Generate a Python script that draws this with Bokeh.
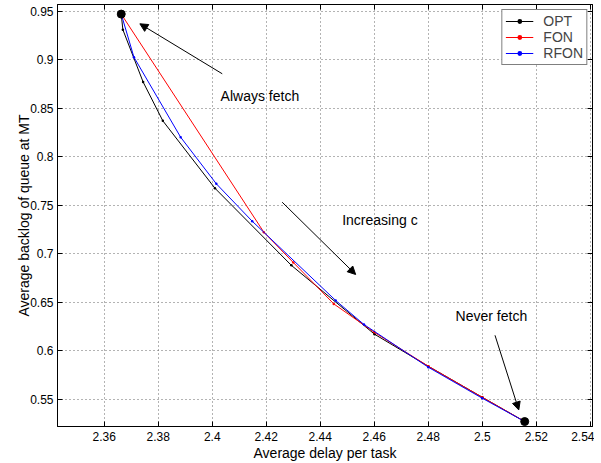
from bokeh.plotting import figure
from bokeh.models import (Range1d, LinearAxis, Arrow, NormalHead, Label, FixedTicker)
from bokeh.embed import file_html
from bokeh.resources import INLINE

# ---- data ----
opt_x = [2.3663, 2.3669, 2.3744, 2.3817, 2.4010, 2.4293, 2.4601, 2.4800, 2.5000, 2.5157]
opt_y = [0.947, 0.931, 0.877, 0.837, 0.7675, 0.688, 0.617, 0.584, 0.552, 0.527]

fon_x = [2.3663, 2.4191, 2.4300, 2.4450, 2.4600, 2.4800, 2.5000, 2.5157]
fon_y = [0.947, 0.7222, 0.691, 0.6483, 0.619, 0.584, 0.552, 0.527]

rfon_x = [2.3663, 2.3710, 2.3883, 2.4015, 2.4148, 2.4457, 2.4562, 2.4800, 2.5000, 2.5157]
rfon_y = [0.947, 0.9026, 0.8201, 0.7721, 0.7335, 0.6518, 0.627, 0.583, 0.551, 0.527]

x_ticks = [2.36, 2.38, 2.40, 2.42, 2.44, 2.46, 2.48, 2.50, 2.52, 2.54]
x_tick_labels = ["2.36", "2.38", "2.4", "2.42", "2.44", "2.46", "2.48", "2.5", "2.52", "2.54"]
y_ticks = [0.55, 0.60, 0.65, 0.70, 0.75, 0.80, 0.85, 0.90, 0.95]
y_tick_labels = ["0.55", "0.6", "0.65", "0.7", "0.75", "0.8", "0.85", "0.9", "0.95"]

# annotations: text, (text x, y), arrow start (x, y), arrow end (x, y)
notes = ["Always fetch", "Increasing c", "Never fetch"]
note_x = [2.4031, 2.4481, 2.4901]
note_y = [0.863, 0.735, 0.6363]
arrow_x0 = [2.4037, 2.4259, 2.5047]
arrow_y0 = [0.8855, 0.7531, 0.6159]
arrow_x1 = [2.3732, 2.4531, 2.5135]
arrow_y1 = [0.937, 0.6786, 0.539]

FONT = "Liberation Sans"

p = figure(width=594, height=463,
           x_range=Range1d(2.3427, 2.5408), y_range=Range1d(0.5219, 0.9569),
           output_backend="svg", toolbar_location=None,
           min_border_left=57, min_border_right=2, min_border_top=4, min_border_bottom=37)
p.outline_line_color = "black"
p.outline_line_width = 1
p.background_fill_color = "white"
p.border_fill_color = "white"

xt = FixedTicker(ticks=x_ticks)
yt = FixedTicker(ticks=y_ticks)
xo = dict(zip(x_ticks, x_tick_labels))
yo = dict(zip(y_ticks, y_tick_labels))

def style_axis(ax, ticker, overrides, show_labels):
    ax.ticker = ticker
    ax.major_tick_in = 5
    ax.major_tick_out = 0
    ax.minor_tick_line_color = None
    ax.axis_line_color = "black"
    ax.major_tick_line_color = "black"
    ax.major_label_text_font = FONT
    ax.major_label_text_color = "black"
    if show_labels:
        ax.major_label_overrides = overrides
        ax.major_label_text_font_size = "12px"
        ax.major_label_standoff = 4
    else:
        ax.major_label_overrides = {k: "" for k in overrides}
        ax.major_label_text_font_size = "1px"
        ax.major_label_standoff = 0

style_axis(p.xaxis[0], xt, xo, True)
style_axis(p.yaxis[0], yt, yo, True)
p.xaxis[0].major_label_standoff = 5
p.xaxis[0].axis_label = "Average delay per task"
p.yaxis[0].axis_label = "Average backlog of queue at MT"
for ax in (p.xaxis[0], p.yaxis[0]):
    ax.axis_label_text_font = FONT
    ax.axis_label_text_font_size = "14px"
    ax.axis_label_text_font_style = "normal"
    ax.axis_label_text_color = "black"
p.xaxis[0].axis_label_standoff = 1
p.yaxis[0].axis_label_standoff = -5

top_ax = LinearAxis()
right_ax = LinearAxis()
style_axis(top_ax, xt, xo, False)
style_axis(right_ax, yt, yo, False)
p.add_layout(top_ax, "above")
p.add_layout(right_ax, "right")

p.xgrid.ticker = xt
p.ygrid.ticker = yt
for g in (p.xgrid, p.ygrid):
    g.grid_line_color = "#666666"
    g.grid_line_dash = "1 3"
    g.grid_line_width = 1

series = [("OPT", opt_x, opt_y, "black"),
          ("FON", fon_x, fon_y, "#ff0000"),
          ("RFON", rfon_x, rfon_y, "#0000ff")]
for name, xs, ys, c in series:
    p.line(xs, ys, color=c, line_width=1, legend_label=name)
    p.scatter(xs, ys, size=2.5, fill_color=c, line_width=0, line_alpha=0, legend_label=name)

p.scatter([opt_x[0], opt_x[-1]], [opt_y[0], opt_y[-1]], size=8, color="black")

for t, tx, ty, x0, y0, x1, y1 in zip(notes, note_x, note_y, arrow_x0, arrow_y0, arrow_x1, arrow_y1):
    p.add_layout(Arrow(end=NormalHead(size=8, fill_color="black", line_color="black", line_width=1),
                       x_start=x0, y_start=y0, x_end=x1, y_end=y1,
                       line_color="black", line_width=1))
    p.add_layout(Label(x=tx, y=ty, text=t, text_font=FONT, text_font_size="14px",
                       text_baseline="middle", text_align="left", text_color="black"))

lg = p.legend[0]
lg.location = "top_right"
lg.margin = 5
lg.padding = 3
lg.spacing = 0
lg.label_height = 12
lg.glyph_height = 12
lg.glyph_width = 28
lg.label_standoff = 10
lg.label_text_line_height = 1.0
lg.label_text_font = FONT
lg.label_text_font_size = "14px"
lg.border_line_color = "black"
lg.border_line_width = 1
lg.background_fill_alpha = 1.0

open("out.html", "w").write(file_html(p, INLINE))
